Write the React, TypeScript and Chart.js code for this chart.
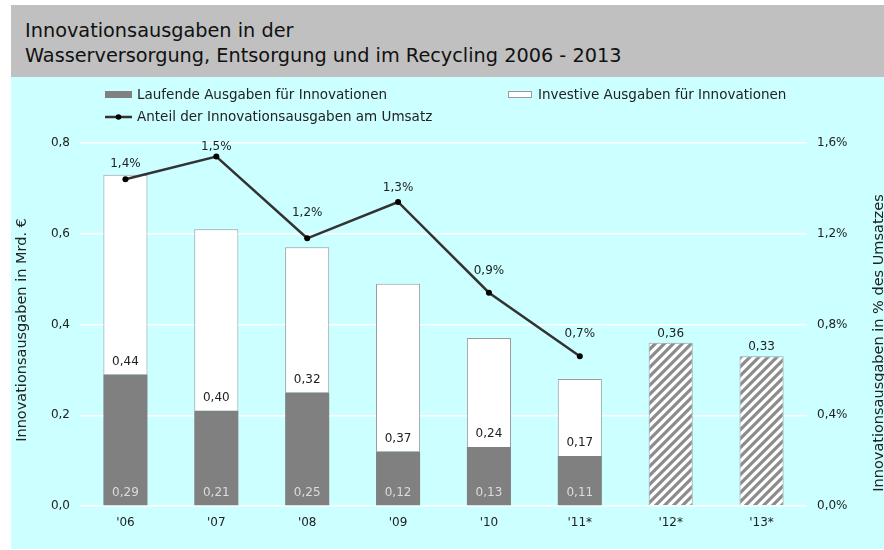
import React, { useEffect, useRef } from "react";
import { Chart, registerables } from "chart.js";

Chart.register(...registerables);

const categories = ["'06", "'07", "'08", "'09", "'10", "'11*", "'12*", "'13*"];
const laufende = [0.29, 0.21, 0.25, 0.12, 0.13, 0.11, null, null];
const investive = [0.44, 0.4, 0.32, 0.37, 0.24, 0.17, null, null];
const prognose = [null, null, null, null, null, null, 0.36, 0.33];
const anteil = [1.44, 1.54, 1.18, 1.34, 0.94, 0.66, null, null];

const titleLines = ["Innovationsausgaben in der", "Wasserversorgung, Entsorgung und im Recycling 2006 - 2013"];
const legendLabels = [
  "Laufende Ausgaben für Innovationen",
  "Investive Ausgaben für Innovationen",
  "Anteil der Innovationsausgaben am Umsatz",
];
const leftAxisTitle = "Innovationsausgaben in Mrd. €";
const rightAxisTitle = "Innovationsausgaben in % des Umsatzes";

const FONT = '"DejaVu Sans", Verdana, sans-serif';
const TEXT = "#222222";

const fmt = (v: number, d: number) => v.toFixed(d).replace(".", ",");

function makeHatch(): CanvasPattern | string {
  const s = 9;
  const c = document.createElement("canvas");
  c.width = s;
  c.height = s;
  const g = c.getContext("2d");
  if (!g) return "#aaaaaa";
  g.fillStyle = "#ffffff";
  g.fillRect(0, 0, s, s);
  g.strokeStyle = "#8c8c8c";
  g.lineWidth = 3.2;
  g.beginPath();
  for (const k of [-s, 0, s]) {
    g.moveTo(k - 2, s + 2);
    g.lineTo(k + s + 2, -2);
  }
  g.stroke();
  const p = g.createPattern(c, "repeat");
  return p || "#aaaaaa";
}

const lineLabelOffsets = [15, 10, 25, 14, 22, 22];

const labelsPlugin = {
  id: "valueLabels",
  afterDatasetsDraw(chart: any) {
    const ctx = chart.ctx;
    ctx.save();
    ctx.font = `12px ${FONT}`;
    ctx.textAlign = "center";
    ctx.textBaseline = "middle";
    const m0 = chart.getDatasetMeta(0);
    const m1 = chart.getDatasetMeta(1);
    const m2 = chart.getDatasetMeta(2);
    const m3 = chart.getDatasetMeta(3);
    laufende.forEach((v, i) => {
      if (v == null) return;
      const el = m0.data[i];
      ctx.fillStyle = "#dcdcdc";
      ctx.fillText(fmt(v, 2), el.x, el.base - 12);
    });
    investive.forEach((v, i) => {
      if (v == null) return;
      const el = m1.data[i];
      ctx.fillStyle = TEXT;
      ctx.fillText(fmt(v, 2), el.x, el.base - 13);
    });
    prognose.forEach((v, i) => {
      if (v == null) return;
      const el = m2.data[i];
      ctx.fillStyle = TEXT;
      ctx.fillText(fmt(v, 2), el.x, el.y - 9);
    });
    anteil.forEach((v, i) => {
      if (v == null) return;
      const el = m3.data[i];
      ctx.fillStyle = TEXT;
      ctx.fillText(fmt(v, 1) + "%", el.x, el.y - (lineLabelOffsets[i] ?? 16));
    });
    ctx.restore();
  },
  afterDraw(chart: any) {
    const ctx = chart.ctx;
    ctx.save();
    // legend
    ctx.font = `13.5px ${FONT}`;
    ctx.textAlign = "left";
    ctx.textBaseline = "middle";
    ctx.fillStyle = "#808080";
    ctx.fillRect(105, 91, 27, 7);
    ctx.fillStyle = TEXT;
    ctx.fillText(legendLabels[0], 137, 95);
    ctx.fillStyle = "#ffffff";
    ctx.fillRect(508, 91, 24, 6);
    ctx.strokeStyle = "#999999";
    ctx.lineWidth = 1;
    ctx.strokeRect(508.5, 91.5, 23, 6);
    ctx.fillStyle = TEXT;
    ctx.fillText(legendLabels[1], 538, 95);
    ctx.strokeStyle = "#333333";
    ctx.lineWidth = 2.5;
    ctx.beginPath();
    ctx.moveTo(105, 117);
    ctx.lineTo(132, 117);
    ctx.stroke();
    ctx.fillStyle = "#000000";
    ctx.beginPath();
    ctx.arc(118.5, 117, 2.8, 0, Math.PI * 2);
    ctx.fill();
    ctx.fillStyle = TEXT;
    ctx.fillText(legendLabels[2], 137, 117);

    // axis titles (both read bottom-to-top)
    ctx.font = `14.5px ${FONT}`;
    ctx.textAlign = "center";
    ctx.textBaseline = "middle";
    ctx.fillStyle = TEXT;
    const drawRot = (text: string, x: number, y: number) => {
      ctx.save();
      ctx.translate(x, y);
      ctx.rotate(-Math.PI / 2);
      ctx.fillText(text, 0, 0);
      ctx.restore();
    };
    drawRot(leftAxisTitle, 22.5, 330);
    drawRot(rightAxisTitle, 879.5, 343);
    ctx.restore();
  },
};

export default function App() {
  const ref = useRef<HTMLCanvasElement | null>(null);

  useEffect(() => {
    if (!ref.current) return;
    const hatch = makeHatch();
    const chart = new Chart(ref.current, {
      type: "bar",
      data: {
        labels: categories,
        datasets: [
          {
            type: "bar",
            label: legendLabels[0],
            data: laufende,
            backgroundColor: "#808080",
            borderWidth: 0,
            yAxisID: "y",
            order: 1,
          },
          {
            type: "bar",
            label: legendLabels[1],
            data: investive,
            backgroundColor: "#ffffff",
            borderColor: "#9a9a9a",
            borderWidth: 1,
            yAxisID: "y",
            order: 1,
          },
          {
            type: "bar",
            label: "Prognose",
            data: prognose,
            backgroundColor: hatch as any,
            borderColor: "#9a9a9a",
            borderWidth: 1,
            yAxisID: "y",
            order: 1,
          },
          {
            type: "line",
            label: legendLabels[2],
            data: anteil,
            borderColor: "#333333",
            borderWidth: 2.5,
            pointRadius: 3,
            pointBackgroundColor: "#000000",
            pointBorderWidth: 0,
            yAxisID: "y1",
            order: 0,
            spanGaps: false,
          } as any,
        ],
      },
      options: {
        animation: false,
        responsive: false,
        maintainAspectRatio: false,
        layout: { padding: { top: 143, left: 0, right: 0, bottom: 0 } },
        datasets: {
          bar: { barPercentage: 0.485, categoryPercentage: 1 },
        },
        plugins: {
          legend: { display: false },
          tooltip: { enabled: false },
          title: { display: false },
        },
        scales: {
          x: {
            stacked: true,
            grid: { display: false, drawTicks: false },
            border: { display: false },
            ticks: { color: TEXT, font: { family: FONT, size: 12 }, padding: 10, maxRotation: 0 },
            afterFit: (s: any) => {
              s.height = 44;
            },
          },
          y: {
            stacked: true,
            position: "left",
            min: 0,
            max: 0.8,
            grid: { color: "#ffffff", lineWidth: 1.5, drawTicks: false },
            border: { display: false },
            ticks: {
              stepSize: 0.2,
              color: TEXT,
              font: { family: FONT, size: 12 },
              padding: 10,
              callback: (v: any) => fmt(Number(v), 1),
            },
            afterFit: (s: any) => {
              s.width = 80;
            },
          },
          y1: {
            position: "right",
            min: 0,
            max: 1.6,
            grid: { display: false, drawTicks: false },
            border: { display: false },
            ticks: {
              stepSize: 0.4,
              color: TEXT,
              font: { family: FONT, size: 12 },
              padding: 10,
              callback: (v: any) => fmt(Number(v), 1) + "%",
            },
            afterFit: (s: any) => {
              s.width = 77;
            },
          },
        },
      } as any,
      plugins: [labelsPlugin],
    });
    return () => chart.destroy();
  }, []);

  return (
    <div style={{ position: "fixed", left: 0, top: 0, width: 884, height: 550, background: "#ffffff" }}>
      <div
        style={{
          position: "absolute",
          left: 11,
          top: 5,
          width: 873,
          height: 72,
          background: "#c0c0c0",
        }}
      >
        <div
          style={{
            position: "absolute",
            left: 14,
            top: 13,
            fontFamily: FONT,
            fontSize: 19.3,
            lineHeight: "25px",
            color: "#111111",
            whiteSpace: "nowrap",
          }}
        >
          <div>{titleLines[0]}</div>
          <div>{titleLines[1]}</div>
        </div>
      </div>
      <div
        style={{
          position: "absolute",
          left: 11,
          top: 77,
          width: 873,
          height: 472,
          background: "#ccffff",
        }}
      />
      <canvas
        ref={ref}
        width={884}
        height={550}
        style={{ position: "absolute", left: 0, top: 0, width: 884, height: 550 }}
      />
    </div>
  );
}
